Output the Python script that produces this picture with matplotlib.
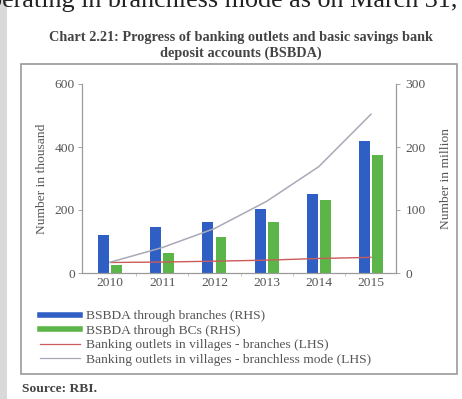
import matplotlib
matplotlib.use("Agg")
import matplotlib.pyplot as plt
from matplotlib.patches import Rectangle
from matplotlib.lines import Line2D
import numpy as np

years = ["2010", "2011", "2012", "2013", "2014", "2015"]
bsbda_branches = [60, 73, 81, 101, 126, 210]       # million (RHS)
bsbda_bcs = [13, 31.6, 57, 81, 116, 188]             # million (RHS)
outlets_branches = [33.4, 34.8, 37.5, 40.8, 46.1, 49.6]   # thousand (LHS)
outlets_branchless = [34.3, 80.8, 141.1, 227.6, 337.7, 504.1]  # thousand (LHS)

W, H = 462, 399
fig = plt.figure(figsize=(W / 100, H / 100), dpi=100)
fig.patch.set_facecolor("white")

def fx(px):
    return px / W

def fy(py):
    return 1 - py / H

serif = ["Liberation Serif", "DejaVu Serif"]
tc = "#555555"
fs = 9.7

# page context
fig.text(fx(457), fy(7), "operating in branchless mode as on March 31,",
         ha="right", va="baseline", fontsize=18.8, family=serif, color="#222222")
fig.patches.append(Rectangle((0, 0), fx(7), 1, transform=fig.transFigure,
                             facecolor="#d9d9d9", edgecolor="none", zorder=0))
fig.patches.append(Rectangle((fx(21), fy(374)), fx(457) - fx(21), fy(64) - fy(374),
                             transform=fig.transFigure, facecolor="white",
                             edgecolor="#9a9a9a", lw=1.2, zorder=-1))

fig.text(fx(241), fy(37), "Chart 2.21: Progress of banking outlets and basic savings bank",
         ha="center", va="center", fontsize=10.3, fontweight="bold", family=serif, color="#444444")
fig.text(fx(241), fy(53), "deposit accounts (BSBDA)",
         ha="center", va="center", fontsize=10.3, fontweight="bold", family=serif, color="#444444")
fig.text(fx(22), fy(389), "Source: RBI.", ha="left", va="center", fontsize=fs,
         fontweight="bold", family=serif, color="#444444")

ax = fig.add_axes([fx(82), fy(273), fx(396) - fx(82), fy(84) - fy(273)])
ax2 = ax.twinx()

x = np.arange(len(years))
bw = 0.21
blue = "#2f5fc4"
green = "#5cb548"
red = "#cc5a5a"
grey = "#a9a9b8"

ax2.bar(x - 0.125, bsbda_branches, width=bw, color=blue, zorder=2)
ax2.bar(x + 0.125, bsbda_bcs, width=bw, color=green, zorder=2)
ax2.set_ylim(0, 300)
ax2.set_yticks([0, 100, 200, 300])

ax.plot(x, outlets_branches, color=red, lw=1.0, zorder=5)
ax.plot(x, outlets_branchless, color=grey, lw=1.1, zorder=5)
ax.set_ylim(0, 600)
ax.set_yticks([0, 200, 400, 600])
ax.set_xlim(-0.54, 5.48)
ax.set_xticks(x)
ax.set_xticklabels(years)
ax.set_xticks(np.arange(0.5, 5.5, 1), minor=True)
ax2.set_zorder(2)
ax.set_zorder(3)
ax.patch.set_visible(False)
ax2.patch.set_visible(False)

for a in (ax, ax2):
    for s in a.spines.values():
        s.set_color("#9a9a9a")
        s.set_linewidth(0.8)
    a.spines["top"].set_visible(False)
    a.tick_params(colors="#9a9a9a", labelcolor=tc, labelsize=fs, length=3, width=0.6, pad=2)
    for lab in a.get_xticklabels() + a.get_yticklabels():
        lab.set_family(serif)
ax.tick_params(axis="x", which="minor", length=2, color="#bbbbbb")
ax.tick_params(axis="x", which="major", length=0, pad=3)
ax2.tick_params(axis="y", pad=4)

ax.set_ylabel("Number in thousand", fontsize=fs, family=serif, color=tc, labelpad=5)
ax2.set_ylabel("Number in million", fontsize=fs, family=serif, color=tc, labelpad=10)

handles = [
    Line2D([0], [0], color=blue, lw=4),
    Line2D([0], [0], color=green, lw=4),
    Line2D([0], [0], color=red, lw=0.9),
    Line2D([0], [0], color=grey, lw=0.9),
]
labels = [
    "BSBDA through branches (RHS)",
    "BSBDA through BCs (RHS)",
    "Banking outlets in villages - branches (LHS)",
    "Banking outlets in villages - branchless mode (LHS)",
]
leg = fig.legend(handles, labels, loc="upper left", bbox_to_anchor=(fx(40), fy(310)),
                 frameon=False, prop={"family": serif, "size": fs},
                 handlelength=3.0, handletextpad=0.4, labelspacing=0.15,
                 borderaxespad=0, borderpad=0)
for t in leg.get_texts():
    t.set_color(tc)

fig.savefig("out.png", dpi=100)
